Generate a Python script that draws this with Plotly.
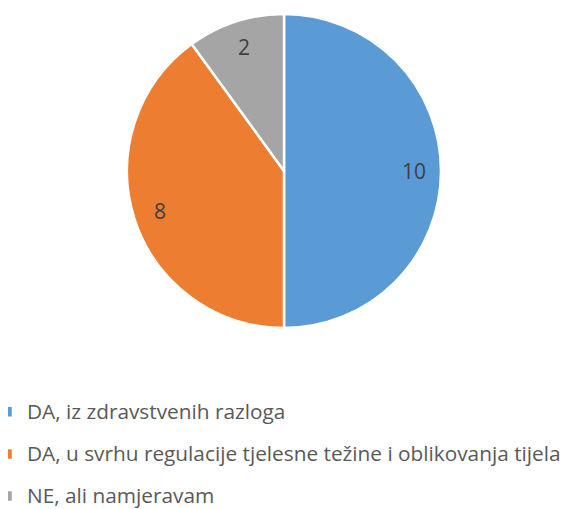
import math
import plotly.graph_objects as go

categories = ["DA, iz zdravstvenih razloga",
              "DA, u svrhu regulacije tjelesne težine i oblikovanja tijela",
              "NE, ali namjeravam"]
values = [10, 8, 2]
colors = ["#5B9BD5", "#ED7D31", "#A5A5A5"]

# the page body adds an 8px margin, so the figure is 8px smaller each way
W, H = 562, 501
# pie domain (paper fractions)
dx = [119 / W, 433 / W]
dy = [1 - 320 / H, 1 - 6 / H]

legend_font = 30.1      # sets legend row spacing
label_font = 20.8       # actual legend text size
styled = [f"<span style='font-size:{label_font}px;baseline-shift:5px'>{c}</span>"
          for c in categories]

fig = go.Figure(go.Pie(
    labels=styled,
    values=values,
    customdata=categories,
    hovertemplate="%{customdata}: %{value}<extra></extra>",
    sort=False,
    direction="clockwise",
    rotation=0,
    marker=dict(colors=colors, line=dict(color="white", width=2.5)),
    textinfo="none",
    domain=dict(x=dx, y=dy),
))

# data labels placed along each slice's mid-angle, derived from values
cx = (dx[0] + dx[1]) / 2 * W
cy = (1 - (dy[0] + dy[1]) / 2) * H
R = (dx[1] - dx[0]) * W / 2
total = sum(values)
acc = 0
for v in values:
    mid = (acc + v / 2) / total * 2 * math.pi
    acc += v
    px = cx + 0.83 * R * math.sin(mid)
    py = cy - 0.83 * R * math.cos(mid)
    fig.add_annotation(x=px / W, y=1 - py / H, xref="paper", yref="paper",
                       xanchor="center", yanchor="middle",
                       text=str(v), showarrow=False,
                       font=dict(size=21, color="#404040"))

fig.update_layout(
    width=W, height=H,
    margin=dict(l=0, r=0, t=0, b=0, autoexpand=False),
    paper_bgcolor="white",
    font=dict(family="Open Sans, Calibri, sans-serif", color="#595959"),
    showlegend=True,
    legend=dict(x=-21 / W, y=1 - 377.75 / H, xanchor="left", yanchor="top",
                orientation="v", font=dict(size=legend_font, color="#595959"),
                bgcolor="rgba(0,0,0,0)", traceorder="normal"),
)
fig.write_html("out.html")
